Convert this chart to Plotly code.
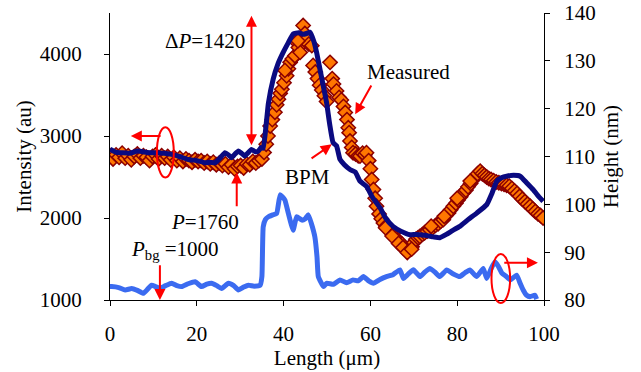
import plotly.graph_objects as go

# ---------------- data ----------------
x_ticks = [0, 20, 40, 60, 80, 100]
left_ticks = [1000, 2000, 3000, 4000]
right_ticks = [80, 90, 100, 110, 120, 130, 140]

# Measured intensity (left axis)
meas_x = [
    0, 0.7, 1.4, 2.1, 2.8, 3.5, 4.2, 4.9, 5.6, 6.3,
    7, 7.7, 8.4, 9.1, 9.8, 10.5, 11.2, 11.9, 12.6, 13.3,
    14, 14.7, 15.4, 16.1, 16.8, 17.5, 18.2, 18.9, 19.6, 20.3,
    21, 21.7, 22.4, 23.1, 23.8, 24.5, 25.2, 25.9, 26.6, 27.3,
    28, 28.7, 29.4, 30.1, 30.8, 31.5, 32.2, 32.9, 33.6, 34.3,
    35, 35.5, 36.0, 36.4, 36.9, 37.4, 38.0, 38.4, 38.8, 39.2,
    39.6, 40.1, 40.7, 41.1, 41.5, 42.0, 42.6, 43.0, 43.4, 43.8,
    44.2, 44.5, 44.9, 45.3, 45.8, 46.5, 46.8, 47.3, 47.8, 48.3,
    48.8, 49.4, 50.7, 51.2, 51.5, 52.2, 52.8, 53.3, 53.8, 54.2,
    54.6, 54.9, 55.1, 55.3, 55.7, 56.0, 56.6, 57.2, 57.6, 58.2,
    58.7, 59.1, 59.6, 60.0, 60.3, 60.7, 61.1, 61.4, 62.0, 62.5,
    63.0, 63.6, 64.2, 64.8, 65.3, 65.8, 66.3, 66.8, 67.3, 67.8,
    68.3, 68.7, 69.1, 69.6, 70.0, 70.5, 71.0, 71.4, 72.0, 72.5,
    73.1, 73.7, 74.3, 75.0, 75.6, 76.2, 76.8, 77.4, 78.0, 78.5,
    79.1, 79.7, 80.2, 80.8, 81.4, 82.0, 82.5, 83.1, 83.7, 84.2,
    84.7, 85.3, 85.8, 86.3, 86.8, 87.3, 87.8, 88.4, 89.0, 89.6,
    90.2, 90.8, 91.4, 92.0, 92.6, 93.2, 93.8, 94.4, 95.0, 95.6,
    96.2, 96.8, 97.4, 98.0, 98.6, 99.2, 99.8, 63.5, 65.0, 66.5,
    67.5, 68.5, 69.5, 74.0, 77.0, 80.0, 83.0, 49.9, 43.3, 40.3,
]
meas_y = [
    2760, 2720, 2770, 2740, 2790, 2730, 2760, 2710, 2750, 2780,
    2730, 2760, 2740, 2700, 2750, 2770, 2720, 2760, 2730, 2750,
    2710, 2740, 2700, 2730, 2690, 2720, 2700, 2680, 2710, 2690,
    2700, 2670, 2690, 2660, 2680, 2650, 2670, 2640, 2660, 2620,
    2650, 2600, 2630, 2640, 2610, 2660, 2650, 2690, 2670, 2700,
    2720, 2800, 2900, 3000, 3122, 3200, 3290, 3380, 3449, 3520,
    3571, 3650, 3734, 3820, 3898, 3940, 3979, 4143, 4080, 4020,
    4200, 4347, 4250, 4184, 4120, 4102, 3860, 3780, 3700, 3620,
    3560, 3490, 3898, 3700, 3633, 3550, 3470, 3440, 3360, 3286,
    3200, 3100, 3041, 2939, 2860, 2796, 2780, 2760, 2755, 2790,
    2770, 2796, 2700, 2600, 2469, 2347, 2240, 2143, 2050, 1990,
    1939, 1900, 1860, 1830, 1816, 1760, 1730, 1700, 1680, 1650,
    1620, 1600, 1612, 1650, 1700, 1740, 1760, 1775, 1800, 1820,
    1840, 1857, 1880, 1910, 1930, 1960, 1980, 2030, 2060, 2100,
    2143, 2180, 2220, 2260, 2306, 2340, 2380, 2420, 2469, 2500,
    2540, 2571, 2540, 2520, 2500, 2480, 2469, 2455, 2440, 2430,
    2420, 2410, 2400, 2388, 2360, 2330, 2300, 2265, 2230, 2200,
    2170, 2143, 2110, 2080, 2050, 2030, 2000, 1880, 1780, 1690,
    1640, 1580, 1620, 1900, 2020, 2240, 2450, 3420, 4160, 3800,
]

# BPM intensity (left axis)
bpm_x = [
    0, 1.5, 2.7, 4.5, 6.4, 8.5, 10.4, 12.5, 14.2, 16,
    18, 20, 21.9, 23, 24.2, 25.5, 26.5, 27.3, 28, 28.8,
    29.6, 30.4, 31.1, 31.9, 32.6, 33.4, 34.2, 34.8, 35.3, 36,
    36.5, 37.6, 38.7, 39.9, 41, 42.2, 43.5, 44.5, 45.3, 46.1,
    47, 47.6, 48.8, 49.9, 50.6, 51.4, 52.2, 53, 54, 55.3,
    56.5, 57.6, 59.1, 60.5, 62.2, 63.5, 65.2, 67, 69.1, 70.5,
    72.5, 74.5, 76, 77.5, 79, 80.6, 82.5, 84.5, 86.8, 88,
    89.1, 90.2, 91.4, 93, 94.5, 96, 97.5, 98.5, 99.8,
]
bpm_y = [
    2840, 2800, 2796, 2790, 2816, 2800, 2796, 2790, 2776, 2750,
    2714, 2700, 2674, 2680, 2674, 2740, 2796, 2770, 2735, 2780,
    2816, 2785, 2755, 2800, 2837, 2810, 2816, 2857, 2850, 3150,
    3400, 3694, 3880, 4020, 4130, 4245, 4260, 4240, 4250, 4265,
    4150, 4020, 3700, 3408, 3150, 2918, 2880, 2714, 2650, 2592,
    2560, 2449, 2387, 2250, 2126, 2000, 1898, 1840, 1796, 1800,
    1790, 1770, 1759, 1800, 1850, 1898, 1980, 2060, 2163, 2300,
    2449, 2490, 2510, 2520, 2510, 2430, 2347, 2280, 2204,
]

# Height profile (right axis)
h_x = [
    0, 0.4, 2, 3.5, 5, 6.3, 7.7, 8.7, 9.6, 10.5,
    11.5, 12.8, 14.2, 15.4, 16.5, 18, 19.6, 21.1, 22.3, 23.4,
    24.6, 25.7, 27.3, 28.5, 29.6, 30.8, 31.9, 33.2, 34.6, 35,
    35.3, 35.8, 36.5, 37.5, 38.4, 39.2, 39.7, 40.3, 41.1, 42.2,
    43, 44.2, 45, 45.7, 46.4, 47.2, 47.7, 48, 49.2, 49.9,
    51.5, 53, 54.5, 56, 57.2, 58.4, 59.6, 60.7, 62.2, 63.7,
    65.2, 66.8, 67.6, 68.8, 69.9, 71.4, 72.5, 73.7, 74.9, 76,
    77.6, 79, 80.6, 81.8, 82.9, 84.5, 86, 86.8, 87.8, 88.7,
    89.5, 90.3, 91.2, 92.2, 93.7, 94.5, 95.2, 96, 96.8, 97.9,
    98.3,
]
h_y = [
    82.8, 82.8, 82.6, 82.1, 82.4, 82.0, 81.4, 82.3, 83.1, 82.8,
    82.4, 83.0, 83.5, 83.0, 82.8, 83.4, 83.8, 82.8, 83.3, 83.5,
    83.0, 82.4, 83.5, 83.0, 82.1, 82.7, 83.1, 82.9, 83.1, 84.9,
    95.3, 96.8, 97.4, 97.8, 98.1, 102.0, 101.6, 100.9, 98.1, 94.6,
    97.4, 96.7, 97.0, 97.8, 96.0, 93.2, 89.0, 84.9, 82.8, 83.5,
    83.3, 84.2, 83.6, 84.2, 84.0, 84.9, 84.0, 83.5, 84.3, 84.9,
    85.3, 86.3, 84.5, 85.5, 86.3, 84.9, 85.8, 86.6, 85.8, 84.9,
    86.3, 85.5, 84.9, 85.7, 86.3, 84.9, 86.6, 84.5, 86.5, 88.0,
    87.0, 85.6, 85.0, 84.2, 85.2, 83.5, 82.1, 81.0, 80.7, 81.0,
    80.2,
]

# ---------------- figure ----------------
FONT = "Liberation Serif"
FS = 21
RED = "#FF0000"

fig = go.Figure()
fig.add_trace(go.Scatter(
    x=h_x, y=h_y, mode="lines", yaxis="y2", name="Height",
    line=dict(color="#3B6BF0", width=5, shape="spline", smoothing=0.4),
))
fig.add_trace(go.Scatter(
    x=meas_x, y=meas_y, mode="markers", name="Measured",
    marker=dict(symbol="diamond", size=11, color="#FF7700",
                line=dict(color="#8B0000", width=1.5)),
))
fig.add_trace(go.Scatter(
    x=bpm_x, y=bpm_y, mode="lines", name="BPM",
    line=dict(color="#0A0A80", width=5, shape="spline", smoothing=0.4),
))

axis_common = dict(showgrid=False, zeroline=False, linecolor="black", linewidth=1,
                   tickcolor="black", ticklen=5, tickwidth=1, automargin=False,
                   ticklabeloverflow="allow",
                   tickfont=dict(family=FONT, size=FS, color="black"))

fig.update_layout(
    width=641, height=372,
    margin=dict(l=110, r=97, t=13, b=72, autoexpand=False),
    paper_bgcolor="white", plot_bgcolor="white",
    showlegend=False,
    font=dict(family=FONT, size=FS, color="black"),
    xaxis=dict(range=[0, 100], tickvals=x_ticks, ticks="outside", showline=True,
               anchor="y", ticklabelstandoff=10,
               title=dict(text="Length (μm)", standoff=0,
                          font=dict(family=FONT, size=FS)),
               **axis_common),
    xaxis2=dict(range=[0, 100], tickvals=x_ticks, ticks="inside", showline=False,
                showticklabels=False, overlaying="x", anchor="y", side="bottom",
                **axis_common),
    yaxis=dict(range=[1000, 4500], tickvals=left_ticks, ticks="outside", showline=True,
               anchor="x", ticklabelstandoff=18,
               title=dict(text="Intensity (au)", standoff=2,
                          font=dict(family=FONT, size=FS)),
               **axis_common),
    yaxis2=dict(range=[80, 140], tickvals=right_ticks, ticks="outside", showline=True,
                overlaying="y", side="right", anchor="x", ticklabelstandoff=10,
                title=dict(text="Height (nm)", standoff=8,
                           font=dict(family=FONT, size=FS)),
                **axis_common),
    yaxis3=dict(range=[1000, 4500], tickvals=left_ticks, ticks="inside", showline=False,
                showticklabels=False, overlaying="y", side="left", anchor="x",
                **axis_common),
    yaxis4=dict(range=[80, 140], tickvals=right_ticks, ticks="inside", showline=False,
                showticklabels=False, overlaying="y", side="right", anchor="x",
                **axis_common),
)

# text labels
texts = [
    ("Δ<i>P</i>=1420", 21.9, 4159),
    ("Measured", 68.7, 3780),
    ("BPM", 45.4, 2494),
    ("<i>P</i>=1760", 21.9, 1955),
    ("<i>P</i><sub>bg</sub> =1000", 15.0, 1612),
]
for t, x, y in texts:
    fig.add_annotation(text=t, x=x, y=y, xref="x", yref="y", showarrow=False,
                       font=dict(family=FONT, size=FS, color="black"))

# red arrows: (tip x, tip y, tail x, tail y, yref, double)
arrows = [
    (32.6, 4465, 32.6, 2870, "y", True),
    (56.5, 3265, 60.4, 3633, "y", False),
    (51.1, 2898, 46.1, 2714, "y", False),
    (29.2, 2555, 29.2, 2126, "y", False),
    (11.5, 1000, 11.5, 1441, "y", False),
    (4.8, 3000, 12.0, 3000, "y", False),
    (98.6, 87.8, 90.5, 87.8, "y2", False),
]
for x, y, ax, ay, yr, dbl in arrows:
    fig.add_annotation(text="", x=x, y=y, ax=ax, ay=ay, xref="x", yref=yr,
                       axref="x", ayref=yr, showarrow=True, arrowhead=2,
                       startarrowhead=2, arrowside="end+start" if dbl else "end",
                       arrowsize=1.1, startarrowsize=1.1, arrowwidth=2,
                       arrowcolor=RED, standoff=0, startstandoff=0)

# red ellipses
fig.add_shape(type="circle", xref="x", yref="y", x0=10.8, x1=14.7, y0=2494, y1=3106,
              line=dict(color=RED, width=2))
fig.add_shape(type="circle", xref="x", yref="paper", x0=87.9, x1=92.2, y0=-0.0105, y1=0.16,
              line=dict(color=RED, width=2))

# remove the default 8px page margin so the figure fills the window exactly
fig.write_html("out.html",
               config={"displayModeBar": False, "staticPlot": True},
               post_script="document.body.style.margin='0px';document.body.style.overflow='hidden';")
